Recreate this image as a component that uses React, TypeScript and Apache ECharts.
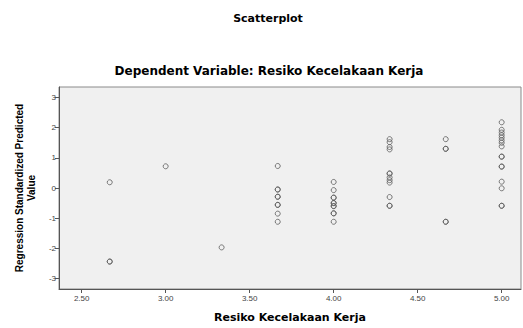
import React, { useEffect, useRef } from "react";
import * as echarts from "echarts";

// Predictor levels (x) and the predicted standardized values at each level (y)
const xLevels = [2.667, 3.0, 3.333, 3.667, 4.0, 4.333, 4.667, 5.0];
const yAt267 = [0.19, -2.44, -2.44];
const yAt300 = [0.72];
const yAt333 = [-1.97];
const yAt367 = [0.73, -0.05, -0.05, -0.29, -0.29, -0.56, -0.56, -0.85, -1.12];
const yAt400 = [0.2, -0.07, -0.32, -0.32, -0.5, -0.5, -0.6, -0.6, -0.84, -0.84, -1.12];
const yAt433 = [1.62, 1.52, 1.36, 1.28, 0.48, 0.48, 0.35, 0.26, 0.18, -0.3, -0.59, -0.59];
const yAt467 = [1.62, 1.3, 1.3, -1.12, -1.12];
const yAt500 = [2.18, 1.93, 1.84, 1.75, 1.67, 1.58, 1.5, 1.38, 1.04, 1.04, 0.71, 0.71, 0.21, -0.01, -0.59, -0.59];
const yGroups = [yAt267, yAt300, yAt333, yAt367, yAt400, yAt433, yAt467, yAt500];

const xTickValues = [2.5, 3.0, 3.5, 4.0, 4.5, 5.0];
const yTickValues = [-3, -2, -1, 0, 1, 2, 3];

const titleText = "Scatterplot";
const subtitleText = "Dependent Variable: Resiko Kecelakaan Kerja";
const xName = "Resiko Kecelakaan Kerja";
const yName = "Regression Standardized Predicted\nValue";

export default function App() {
  const ref = useRef<HTMLDivElement>(null);
  useEffect(() => {
    if (!ref.current) return;
    const chart = echarts.init(ref.current, undefined, { renderer: "svg" });
    const points: number[][] = [];
    xLevels.forEach((x, i) => yGroups[i].forEach((y) => points.push([x, y])));
    const font = "'Liberation Sans', Arial, sans-serif";
    const wide = "'DejaVu Sans', Verdana, sans-serif";
    chart.setOption({
      animation: false,
      backgroundColor: "#ffffff",
      title: [
        {
          text: titleText,
          left: 263,
          top: 8,
          textAlign: "center",
          textStyle: { fontFamily: wide, fontSize: 11, fontWeight: "bold", color: "#000" },
        },
        {
          text: subtitleText,
          left: 264,
          top: 60,
          textAlign: "center",
          textStyle: { fontFamily: wide, fontSize: 12, fontWeight: "bold", color: "#000" },
        },
      ],
      grid: {
        left: 59,
        top: 87,
        right: 2,
        bottom: 32,
        show: true,
        backgroundColor: "#f0f0f0",
        borderColor: "#8a8a8a",
        borderWidth: 1,
      },
      xAxis: {
        type: "value",
        min: 2.365,
        max: 5.115,
        name: xName,
        nameLocation: "middle",
        nameGap: 23,
        nameTextStyle: { fontFamily: wide, fontSize: 11, fontWeight: "bold", color: "#000" },
        splitLine: { show: false },
        axisLine: { show: true, onZero: false, lineStyle: { color: "#555" } },
        axisTick: { show: true, length: 4, lineStyle: { color: "#555" }, customValues: xTickValues },
        axisLabel: {
          customValues: xTickValues,
          formatter: (v: number) => v.toFixed(2),
          fontFamily: font,
          fontSize: 8,
          color: "#444",
          margin: 5,
        },
      },
      yAxis: {
        type: "value",
        min: -3.35,
        max: 3.35,
        name: yName,
        nameLocation: "middle",
        nameRotate: 90,
        nameGap: 15,
        nameTextStyle: { fontFamily: font, fontSize: 10, fontWeight: "bold", color: "#000", lineHeight: 12 },
        splitLine: { show: false },
        axisLine: { show: true, onZero: false, lineStyle: { color: "#555" } },
        axisTick: { show: true, length: 4, lineStyle: { color: "#555" }, customValues: yTickValues },
        axisLabel: {
          customValues: yTickValues,
          fontFamily: font,
          fontSize: 8,
          color: "#444",
          margin: 3,
        },
      },
      series: [
        {
          type: "scatter",
          data: points,
          symbol: "circle",
          symbolSize: 5,
          itemStyle: { color: "rgba(0,0,0,0)", borderColor: "#5a5a5a", borderWidth: 1 },
        },
      ],
    });
    return () => chart.dispose();
  }, []);
  return <div ref={ref} style={{ width: 523, height: 328, position: "absolute", left: 0, top: 0 }} />;
}
